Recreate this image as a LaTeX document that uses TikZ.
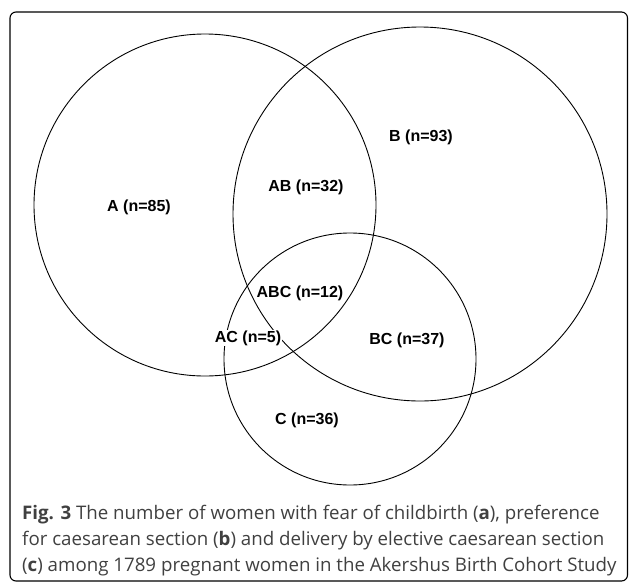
\documentclass[tikz,border=0pt]{standalone}
\usepackage{fontspec}
\setmainfont{Open Sans}
\newfontfamily\labelfont{Liberation Sans}
\begin{document}
\begin{tikzpicture}[x=1pt,y=-1pt]

\tikzstyle{setcircle} = [circle, draw=black, line width=0.9pt, inner sep=0pt]
\tikzstyle{setlabel} = [fill=white, inner sep=1pt, font=\labelfont\bfseries\fontsize{16}{18}\selectfont]
\tikzstyle{captionline} = [anchor=base west, inner sep=0pt, text=black!75, font=\fontsize{18.7}{26}\selectfont]

\useasboundingbox (0,0) rectangle (629,584);
\draw [line width=1.1pt, rounded corners=6pt] (10,12) rectangle (627.5,581);

% Circles
\node (circA) [setcircle, minimum size=342pt] at (205,205) {};
\node (circB) [setcircle, minimum size=374pt] at (420,214) {};
\node (circC) [setcircle, minimum size=252pt] at (350,359) {};

% Labels
\node (labA) [setlabel] at (139,207) {A (n=85)};
\node (labB) [setlabel] at (421,137) {B (n=93)};
\node (labC) [setlabel] at (307,420) {C (n=36)};
\node (labAB) [setlabel] at (306,187) {AB (n=32)};
\node (labABC) [setlabel] at (300,293) {ABC (n=12)};
\node (labAC) [setlabel] at (248,338) {AC (n=5)};
\node (labBC) [setlabel] at (407,340) {BC (n=37)};

% Caption
\node (cap1) [captionline] at (22,519) {\textbf{Fig. 3} The number of women with fear of childbirth (\textbf{a}), preference};
\node (cap2) [captionline] at (22,545) {for caesarean section (\textbf{b}) and delivery by elective caesarean section};
\node (cap3) [captionline] at (22,571) {(\textbf{c}) among 1789 pregnant women in the Akershus Birth Cohort Study};

\end{tikzpicture}
\end{document}
